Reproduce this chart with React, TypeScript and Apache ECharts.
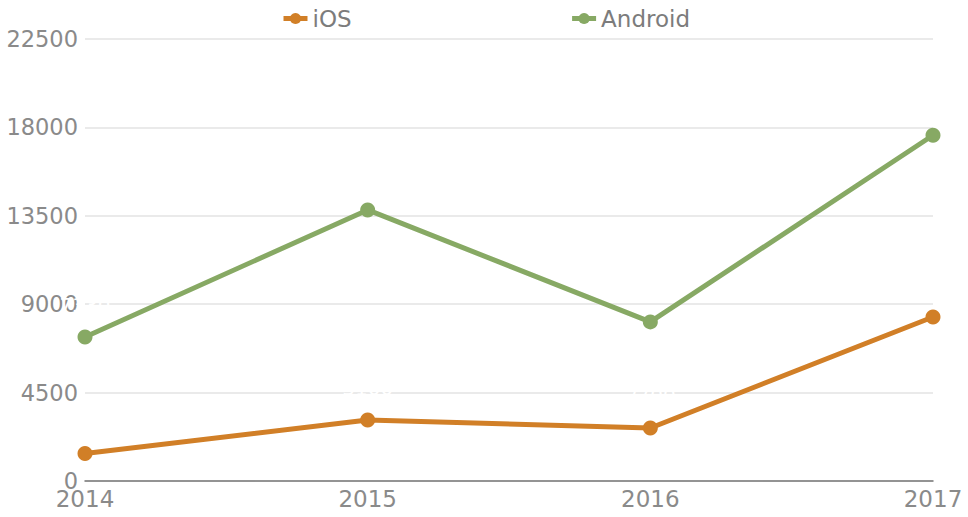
import React, { useEffect, useRef } from "react";
import * as echarts from "echarts";

const years = ["2014", "2015", "2016", "2017"];
const iosValues = [1400, 3100, 2700, 8350];
const androidValues = [7330, 13800, 8100, 17600];
const seriesNames = ["iOS", "Android"];

export default function App() {
  const ref = useRef<HTMLDivElement>(null);
  useEffect(() => {
    const chart = echarts.init(ref.current!, null, { renderer: "svg" });
    const font = "DejaVu Sans";
    chart.setOption({
      animation: false,
      textStyle: { fontFamily: font },
      legend: {
        top: 2,
        left: 276,
        itemGap: 218,
        itemWidth: 24,
        itemHeight: 14,
        lineStyle: { width: 5 },
        textStyle: { fontSize: 23, color: "#7c7c7c", fontFamily: font },
        data: seriesNames,
      },
      grid: { left: 85, right: 35, top: 39, bottom: 36 },
      xAxis: {
        type: "category",
        data: years,
        boundaryGap: false,
        axisLine: { lineStyle: { color: "#777", width: 1.5 } },
        axisTick: { show: false },
        axisLabel: { fontSize: 23, color: "#8a8a8a", fontFamily: font, margin: 6 },
      },
      yAxis: {
        type: "value",
        min: 0,
        max: 22500,
        interval: 4500,
        axisLine: { show: false },
        axisTick: { show: false },
        axisLabel: {
          fontSize: 22.5,
          color: "#8a8a8a",
          fontFamily: font,
          margin: 7,
          formatter: (v: number) => String(v),
        },
        splitLine: { lineStyle: { color: "#e3e3e3", width: 1.5 } },
      },
      series: [
        {
          name: seriesNames[0],
          type: "line",
          data: iosValues,
          symbol: "circle",
          symbolSize: 15,
          color: "#d17f27",
          lineStyle: { width: 5 },
          label: { show: true, position: "top", color: "#ffffff", fontSize: 20, distance: 15 },
        },
        {
          name: seriesNames[1],
          type: "line",
          data: androidValues,
          symbol: "circle",
          symbolSize: 15,
          color: "#87a964",
          lineStyle: { width: 5 },
          label: { show: true, position: "top", color: "#ffffff", fontSize: 20, distance: 15 },
        },
      ],
    });
    return () => chart.dispose();
  }, []);
  return <div ref={ref} style={{ width: 968, height: 517, position: "absolute", left: 0, top: 0 }} />;
}
